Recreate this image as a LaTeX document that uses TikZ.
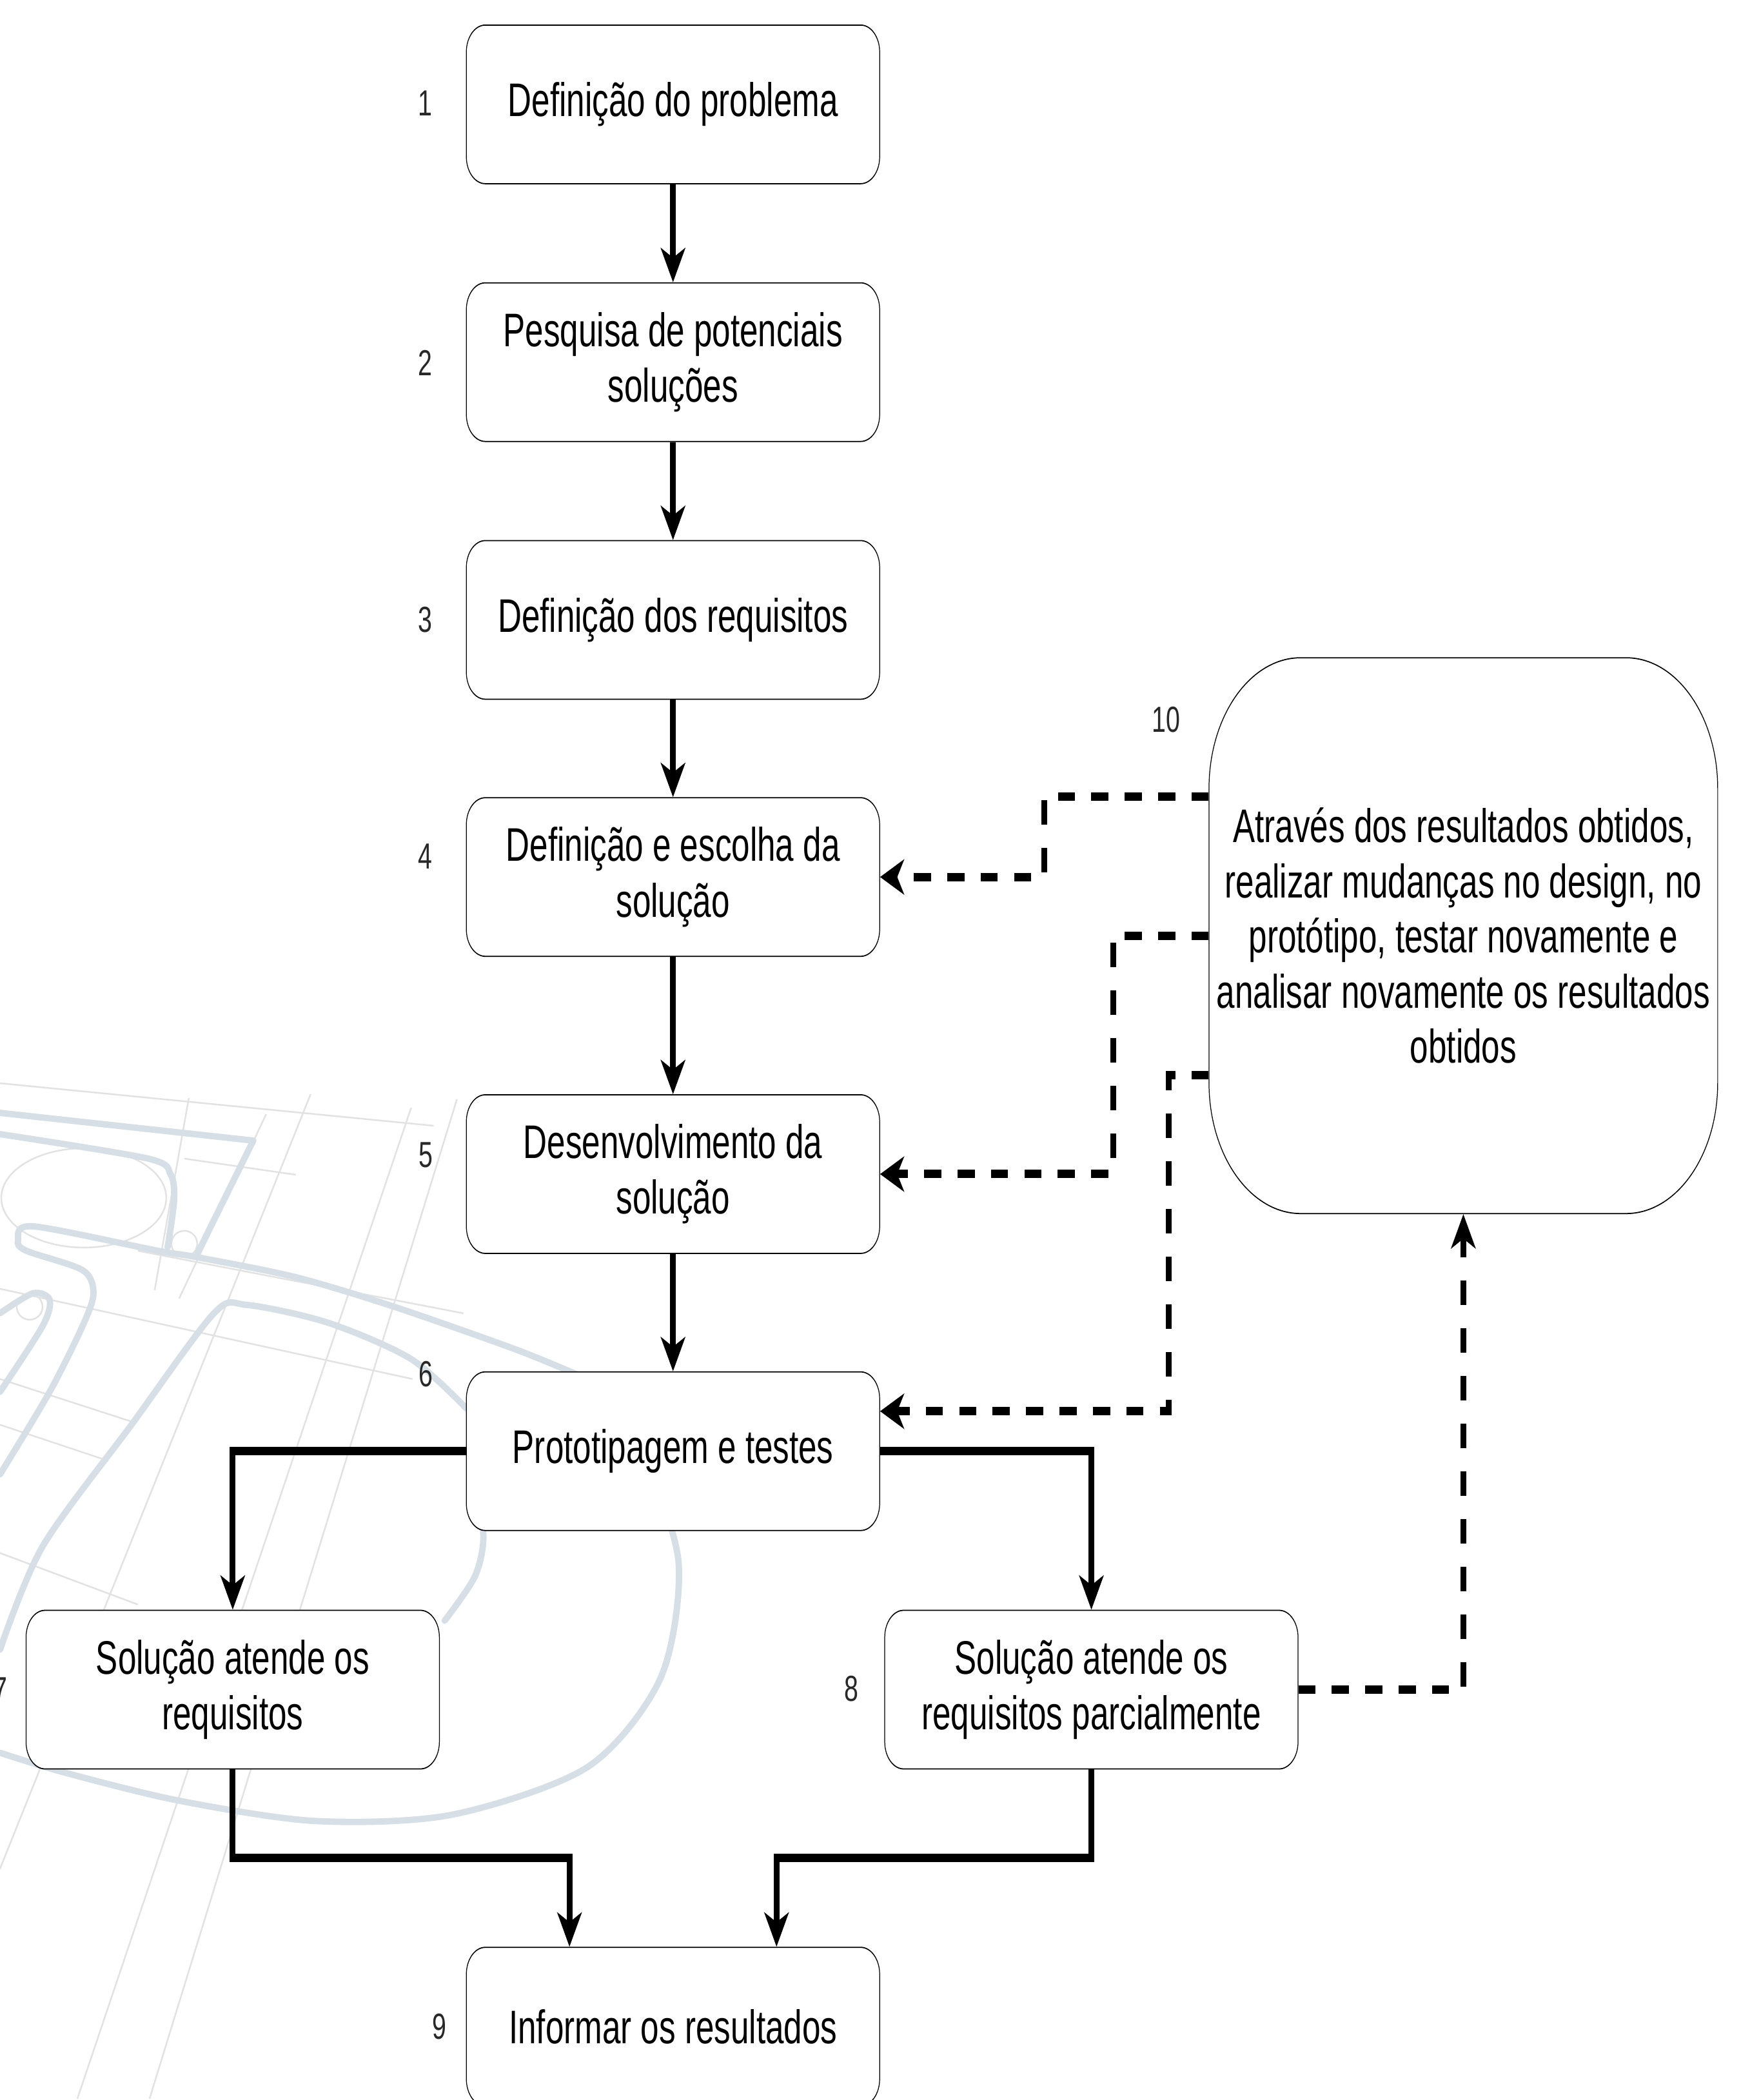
\documentclass[tikz,border=0pt]{standalone}
\usepackage{fontspec}
\setmainfont{Liberation Sans}
\usetikzlibrary{arrows.meta,calc}
\definecolor{wmthick}{RGB}{214,223,230}
\definecolor{wmthin}{RGB}{226,226,226}
\definecolor{numgray}{RGB}{40,40,40}
\begin{document}
\begin{tikzpicture}[
  box/.style={draw=black, line width=0.5pt, fill=white, rounded corners=0.42cm,
    minimum width=9.157cm, minimum height=2.46cm, align=center, inner sep=0pt,
    font=\fontsize{20.8}{24.5}\selectfont},
  bigbox/.style={box, rounded corners=2.03cm, minimum width=11.27cm, minimum height=8.62cm},
  num/.style={text=numgray, font=\fontsize{16}{19}\selectfont, inner sep=0pt},
  conn/.style={line width=3.7pt, -{Stealth[length=0.53cm, width=0.54cm, inset=0.15cm]}},
  dconn/.style={conn, dash pattern=on 0.38cm off 0.36cm},
  wmk/.style={draw=wmthick, line width=2.8pt, line cap=round, line join=round},
  wml/.style={draw=wmthin, line width=0.7pt},
]
\useasboundingbox (0,0) rectangle (27cm,-32.57cm);
\fill[white] (0,0) rectangle (27cm,-32.57cm);

% faint background sketch (watermark)
\begin{scope}[x=0.01cm,y=-0.01cm]
  \draw[wml] (0,1681) -- (673,1747);
  \draw[wml] (286,1798) -- (459,1823);
  \draw[wml] (214,1941) -- (719,2038);
  \draw[wml] (0,2000) -- (640,2140);
  \draw[wml] (0,2140) -- (204,2206);
  \draw[wml] (0,2211) -- (168,2267);
  \draw[wml] (482,1698) -- (0,2900);
  \draw[wml] (638,1719) -- (120,3257);
  \draw[wml] (709,1706) -- (232,3257);
  \draw[wml] (293,1704) -- (240,2002);
  \draw[wml] (413,1729) -- (278,2015);
  \draw[wml] (0,2410) -- (214,2490);
  \draw[wml] (130,1859) ellipse [x radius=128, y radius=77];
  \draw[wml] (286,1930) circle [radius=20];
  \draw[wml] (46,2028) circle [radius=20];
  \draw[wmk] (0,1727) -- (393,1770) -- (306,1946);
  \draw[wmk] plot[smooth] coordinates {(0,1760) (230,1798) (265,1823) (270,1864) (260,1936)};
  \draw[wmk] plot[smooth] coordinates {(0,2288) (77,2160) (128,2058) (145,2007) (128,1971)
     (41,1941) (28,1925) (51,1903) (245,1941) (306,1951) (459,1982) (612,2028) (800,2094) (900,2135)};
  \draw[wmk] plot[smooth] coordinates {(0,2038) (51,2007) (77,2017) (66,2058) (0,2160)};
  \draw[wmk] plot[smooth] coordinates {(0,2560) (66,2400) (204,2211) (332,2038) (383,2025)
     (510,2053) (638,2109) (724,2186)};
  \draw[wmk] plot[smooth] coordinates {(730,2300) (750,2380) (737,2446) (690,2515)};
  \draw[wmk] plot[smooth] coordinates {(1000,2250) (1053,2425) (1025,2604) (912,2742)
     (702,2816) (491,2826) (281,2795) (105,2752) (0,2720)};
\end{scope}

\begin{scope}[transform canvas={xscale=0.7}, x=0.0142857cm, y=-0.01cm]
  % boxes
  \node[box] (b1) at (1044,162) {Definição do problema};
  \node[box] (b2) at (1044,562) {Pesquisa de potenciais\\soluções};
  \node[box] (b3) at (1044,962) {Definição dos requisitos};
  \node[box] (b4) at (1044,1361) {Definição e escolha da\\solução};
  \node[box] (b5) at (1044,1822) {Desenvolvimento da\\solução};
  \node[box] (b6) at (1044,2252) {Prototipagem e testes};
  \node[box] (b7) at (361,2622) {Solução atende os\\requisitos};
  \node[box] (b8) at (1693,2622) {Solução atende os\\requisitos parcialmente};
  \node[box] (b9) at (1044,3145) {Informar os resultados};
  \node[bigbox, font=\fontsize{20.8}{24.3}\selectfont] (b10) at (2270,1452)
    {Através dos resultados obtidos,\\realizar mudanças no design, no\\protótipo, testar novamente e\\analisar novamente os resultados\\obtidos};

  % step numbers
  \node[num] (n1) at (660,160) {1};
  \node[num] (n2) at (660,563) {2};
  \node[num] (n3) at (660,962) {3};
  \node[num] (n4) at (660,1329) {4};
  \node[num] (n5) at (661,1792) {5};
  \node[num] (n6) at (661,2132) {6};
  \node[num] (n7) at (0,2623) {7};
  \node[num] (n8) at (1321,2621) {8};
  \node[num] (n9) at (682,3145) {9};
  \node[num] (n10) at (1809,1117) {10};

  % solid connectors
  \draw[conn] (b1.south) -- (b2.north);
  \draw[conn] (b2.south) -- (b3.north);
  \draw[conn] (b3.south) -- (b4.north);
  \draw[conn] (b4.south) -- (b5.north);
  \draw[conn] (b5.south) -- (b6.north);
  \draw[conn] (b6.west) -| (b7.north);
  \draw[conn] (b6.east) -| (b8.north);
  \coordinate (j1) at ($(b9.north west)!0.25!(b9.north east)$);
  \coordinate (j2) at ($(b9.north west)!0.75!(b9.north east)$);
  \coordinate (my) at (0,2883);
  \draw[conn] (b7.south) |- (j1 |- my) -- (j1);
  \draw[conn] (b8.south) |- (j2 |- my) -- (j2);

  % dashed feedback connectors
  \coordinate (d1) at ($(b10.north west)!0.25!(b10.south west)$);
  \coordinate (d3) at ($(b10.north west)!0.75!(b10.south west)$);
  \coordinate (e6) at ($(b6.north east)!0.25!(b6.south east)$);
  \coordinate (v1) at (1620,0);
  \coordinate (v2) at (1727,0);
  \coordinate (v3) at (1813,0);
  \draw[dconn] (d1) -- (d1 -| v1) |- (b4.east);
  \draw[dconn] (b10.west) -- (b10.west -| v2) |- (b5.east);
  \draw[dconn] (d3) -- (d3 -| v3) |- (e6);
  \draw[dconn] (b8.east) -| (b10.south);
\end{scope}
\end{tikzpicture}
\end{document}
